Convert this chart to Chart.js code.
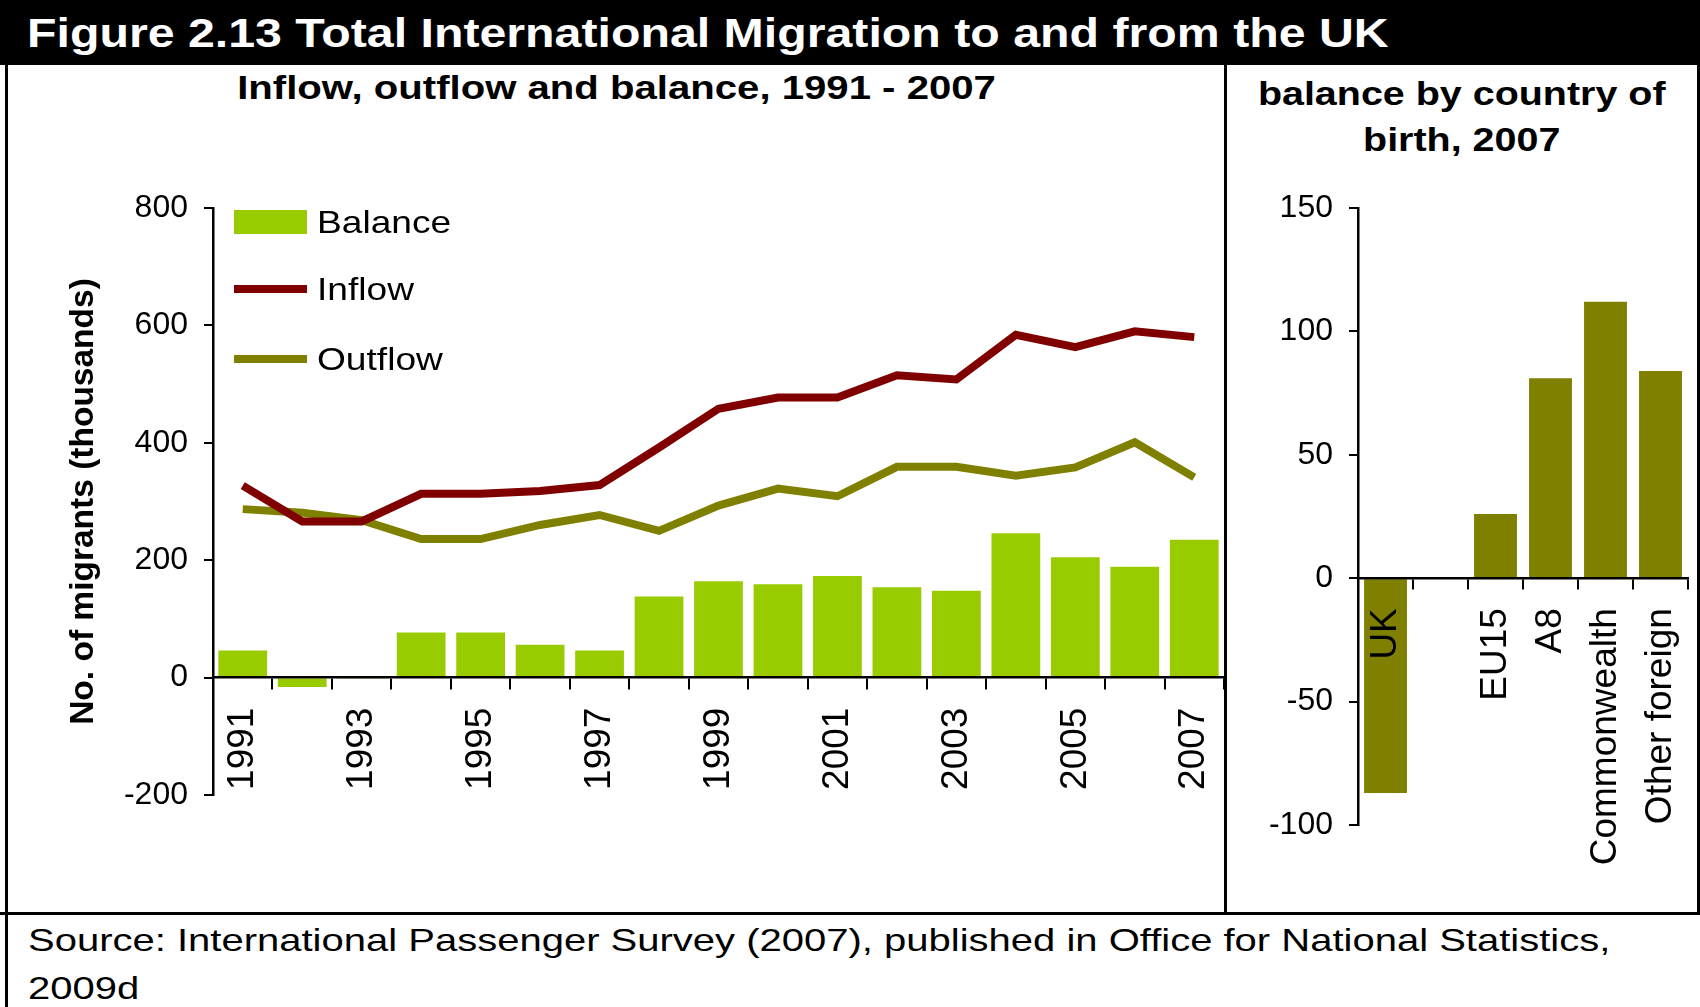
<!DOCTYPE html>
<html lang="en">
<head>
    <meta charset="UTF-8">
    <title>Figure 2.13 Total International Migration to and from the UK</title>
    <script src="https://cdn.jsdelivr.net/npm/chart.js"></script>
    <style>
        body {
            margin: 0;
            background: #fff;
            font-family: "Liberation Sans", Arial, sans-serif;
            color: #000;
        }
        #page {
            position: relative;
            width: 1700px;
            height: 1007px;
            overflow: hidden;
            background: #fff;
        }
        .titlebar {
            position: absolute;
            left: 0;
            top: 0;
            width: 1700px;
            height: 65px;
            background: #000;
            color: #fff;
            font-weight: bold;
            font-size: 40px;
            line-height: 67px;
            white-space: nowrap;
        }
        .stretch {
            display: inline-block;
            white-space: nowrap;
        }
        .sub {
            position: absolute;
            font-weight: bold;
            font-size: 34px;
            text-align: center;
            white-space: nowrap;
        }
        .rule {
            position: absolute;
            background: #000;
            z-index: 5;
        }
        .chart-box {
            position: absolute;
        }
        #legend {
            position: absolute;
            left: 234px;
            top: 0;
        }
        .legend-row {
            position: absolute;
            left: 0;
            height: 40px;
            display: flex;
            align-items: center;
            white-space: nowrap;
            font-size: 32px;
            line-height: 40px;
        }
        .legend-row .swatch {
            width: 73px;
            margin-right: 10px;
        }
        .source {
            position: absolute;
            left: 28px;
            top: 916px;
            font-size: 32px;
            line-height: 48px;
        }
    </style>
</head>
<body>
<div id="page">
    <div class="titlebar"><span class="stretch" style="margin-left:27px; transform: scaleX(1.207); transform-origin: left center;">Figure 2.13 Total International Migration to and from the UK</span></div>

    <div class="sub" style="left:8px; width:1217px; top:67px; line-height:40px;"><span class="stretch" style="transform: scaleX(1.18);">Inflow, outflow and balance, 1991 - 2007</span></div>
    <div class="sub" style="left:1227px; width:470px; top:70px; line-height:46px;"><span class="stretch" style="transform: scaleX(1.16);">balance by country of<br>birth, 2007</span></div>

    <div class="chart-box" style="left:0; top:150px;">
        <canvas id="trendChart" width="1240" height="700"></canvas>
    </div>
    <div class="chart-box" style="left:1240px; top:150px;">
        <canvas id="birthChart" width="460" height="740"></canvas>
    </div>
    <div id="legend"></div>

    <div class="rule" style="left:5px; top:65px; width:3px; height:942px;"></div>
    <div class="rule" style="left:1697px; top:65px; width:3px; height:849px;"></div>
    <div class="rule" style="left:1224px; top:65px; width:2.5px; height:849px;"></div>
    <div class="rule" style="left:0; top:912px; width:1700px; height:2.5px;"></div>

    <div class="source"><span class="stretch" style="transform: scaleX(1.25); transform-origin: left center;">Source: International Passenger Survey (2007), published in Office for National Statistics,<br>2009d</span></div>
</div>

<script>
    // values, thousands
    const years = ['1991', '1992', '1993', '1994', '1995', '1996', '1997', '1998', '1999',
        '2000', '2001', '2002', '2003', '2004', '2005', '2006', '2007'];
    const balance = [46, -16, -1, 77, 77, 56, 46, 138, 164, 159, 173, 154, 148, 246, 205, 189, 235];
    const inflow = [327, 266, 266, 313, 313, 318, 328, 392, 458, 477, 477, 515, 508, 584, 563, 590, 580];
    const outflow = [287, 281, 268, 236, 236, 260, 277, 250, 293, 322, 309, 359, 359, 344, 358, 401, 341];

    const birthGroups = ['UK', '', 'EU15', 'A8', 'Commonwealth', 'Other foreign'];
    const birthBalance = [-87, null, 26, 81, 112, 84];

    const trendTicks = [-200, 0, 200, 400, 600, 800];
    const birthTicks = [-100, -50, 0, 50, 100, 150];

    Chart.defaults.font.family = "'Liberation Sans', Arial, sans-serif";
    Chart.defaults.color = '#000';

    const axisBorder = { color: '#000', width: 2.5 };
    // keep the plot area where it is, rotated labels need no side room
    const noSidePadding = s => { s.paddingLeft = 0; s.paddingRight = 0; };

    const trendData = [
        { label: 'Balance', data: balance, backgroundColor: '#99CC00', barPercentage: 0.82, categoryPercentage: 1, order: 2 },
        { type: 'line', label: 'Inflow', data: inflow, borderColor: '#800000', backgroundColor: '#800000', borderWidth: 8, pointRadius: 0, tension: 0, order: 1 },
        { type: 'line', label: 'Outflow', data: outflow, borderColor: '#808000', backgroundColor: '#808000', borderWidth: 8, pointRadius: 0, tension: 0, order: 1 }
    ];

    new Chart(document.getElementById('trendChart'), {
        type: 'bar',
        data: { labels: years, datasets: trendData },
        options: {
            responsive: false,
            animation: false,
            layout: { padding: { left: 0, top: 58, right: 16, bottom: 55 } },
            plugins: { legend: { display: false }, tooltip: { enabled: false } },
            scales: {
                x: {
                    position: { y: 0 },
                    grid: { offset: true, drawOnChartArea: false, tickLength: 11, color: '#000', lineWidth: 2 },
                    border: { color: '#000', width: 2.5, z: 1 },
                    ticks: {
                        autoSkip: false,
                        minRotation: 90,
                        maxRotation: 90,
                        padding: 19,
                        font: { size: 37 },
                        callback: function (v, i) { return i % 2 === 0 ? this.getLabelForValue(v) : ''; }
                    },
                    afterFit: noSidePadding
                },
                y: {
                    min: trendTicks[0],
                    max: trendTicks[trendTicks.length - 1],
                    afterBuildTicks: s => { s.ticks = trendTicks.map(v => ({ value: v })); },
                    ticks: { padding: 16, font: { size: 32 } },
                    grid: { drawOnChartArea: false, tickLength: 9, color: '#000', lineWidth: 2 },
                    border: axisBorder,
                    title: {
                        display: true,
                        text: 'No. of migrants (thousands)',
                        font: { size: 33.5, weight: 'bold' },
                        padding: { top: 64, bottom: 0 }
                    },
                    afterFit: s => { s.width = 213; }
                }
            }
        }
    });

    new Chart(document.getElementById('birthChart'), {
        type: 'bar',
        data: {
            labels: birthGroups,
            datasets: [{ label: 'Balance 2007', data: birthBalance, backgroundColor: '#808000', barPercentage: 0.78, categoryPercentage: 1 }]
        },
        options: {
            responsive: false,
            animation: false,
            layout: { padding: { left: 0, top: 58, right: 12, bottom: 65 } },
            plugins: { legend: { display: false }, tooltip: { enabled: false } },
            scales: {
                x: {
                    position: { y: 0 },
                    grid: { offset: true, drawOnChartArea: false, tickLength: 10, color: '#000', lineWidth: 2 },
                    border: { color: '#000', width: 2.5, z: 1 },
                    // labels sit over the UK bar, so draw them after the bars
                    ticks: { z: 1, autoSkip: false, minRotation: 90, maxRotation: 90, padding: 20, font: { size: 37 } },
                    afterFit: noSidePadding
                },
                y: {
                    min: birthTicks[0],
                    max: birthTicks[birthTicks.length - 1],
                    afterBuildTicks: s => { s.ticks = birthTicks.map(v => ({ value: v })); },
                    ticks: { padding: 16, font: { size: 32 } },
                    grid: { drawOnChartArea: false, tickLength: 9, color: '#000', lineWidth: 2 },
                    border: axisBorder,
                    afterFit: s => { s.width = 118; }
                }
            }
        }
    });

    // legend inside the plot area, built from the datasets
    const legendCentres = [222, 289, 359];
    const legend = document.getElementById('legend');
    trendData.forEach((ds, i) => {
        const row = document.createElement('div');
        row.className = 'legend-row';
        row.style.top = (legendCentres[i] - 20) + 'px';
        const sw = document.createElement('span');
        sw.className = 'swatch';
        sw.style.height = ds.type === 'line' ? '8px' : '24px';
        sw.style.background = ds.type === 'line' ? ds.borderColor : ds.backgroundColor;
        const txt = document.createElement('span');
        txt.className = 'stretch';
        txt.style.transform = 'scaleX(1.16)';
        txt.style.transformOrigin = 'left center';
        txt.textContent = ds.label;
        row.appendChild(sw);
        row.appendChild(txt);
        legend.appendChild(row);
    });
</script>
</body>
</html>
